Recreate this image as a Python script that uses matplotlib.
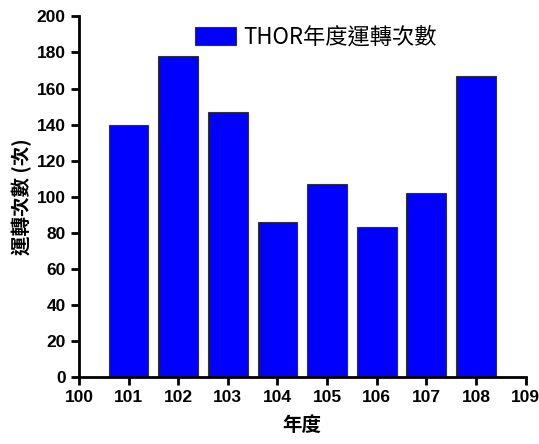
import matplotlib
matplotlib.use("Agg")
import matplotlib.pyplot as plt

years = [101, 102, 103, 104, 105, 106, 107, 108]
counts = [140, 178, 147, 86, 107, 83, 102, 167]
xticks = list(range(100, 110))
yticks = list(range(0, 201, 20))

cjk = ['Noto Sans CJK TC', 'DejaVu Sans']

fig = plt.figure(figsize=(5.39, 4.44), dpi=100)
ax = fig.add_axes([0.1466, 0.151, 0.8284, 0.812])

ax.bar(years, counts, width=0.8, color='#0000ff', edgecolor='#333333',
       linewidth=0.8, label='THOR年度運轉次數')

ax.set_xlim(100, 109)
ax.set_ylim(0, 200)
ax.set_xticks(xticks)
ax.set_yticks(yticks)
ax.spines['top'].set_visible(False)
ax.spines['right'].set_visible(False)
ax.spines['left'].set_linewidth(2)
ax.spines['bottom'].set_linewidth(2)
ax.tick_params(direction='out', length=6, width=2, labelsize=12.5)
for lab in ax.get_xticklabels() + ax.get_yticklabels():
    lab.set_family('Liberation Sans')
    lab.set_fontweight('bold')

ax.set_xlabel('年度', family=cjk, fontsize=14, fontweight='bold', labelpad=8)
ax.set_ylabel('運轉次數 (次)', family=cjk, fontsize=14, fontweight='bold', labelpad=3)

leg = fig.legend(loc='center left', bbox_to_anchor=(0.3618, 0.9167), frameon=False,
                 prop={'family': cjk, 'size': 16}, handlelength=1.85, handleheight=0.9,
                 handletextpad=0.3, borderpad=0, borderaxespad=0)

fig.savefig('out.png', dpi=100)
